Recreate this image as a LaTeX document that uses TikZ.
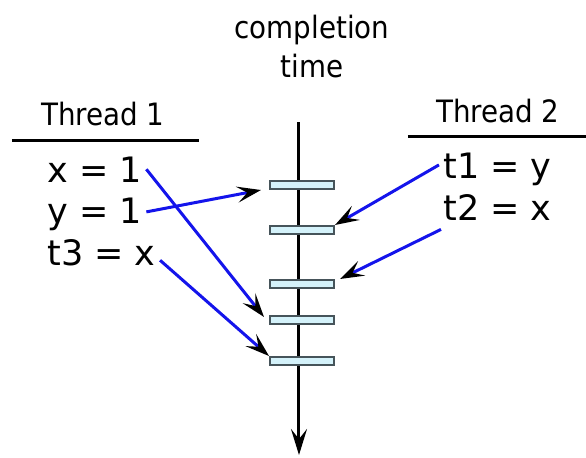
\documentclass[tikz,border=0pt]{standalone}
\usepackage{fontspec}
\setmainfont{DejaVu Sans}
\newfontfamily\condfont{DejaVu Sans Condensed}
\usepackage{tikz}
\usetikzlibrary{arrows.meta,positioning,calc}
\definecolor{slotfill}{RGB}{212,242,250}
\definecolor{slotedge}{RGB}{70,84,90}
\definecolor{linkblue}{RGB}{20,20,235}
\tikzset{
    slot/.style={rectangle, draw=slotedge, fill=slotfill, line width=1pt, minimum width=32pt, minimum height=4pt, inner sep=0pt},
    stmt/.style={anchor=base west, inner sep=2pt, font=\fontsize{17.5}{19}\selectfont},
    head/.style={anchor=base, font=\condfont\fontsize{15.4}{18}\selectfont},
    link/.style={draw=linkblue, line width=1.5pt, -{Stealth[black, length=12pt, width=8pt, inset=5pt]}},
    timeline/.style={draw, line width=1.5pt, -{Stealth[length=13pt, width=8pt, inset=5pt]}}
}
\begin{document}
\begin{tikzpicture}[x=0.5pt, y=-0.5pt]
    \useasboundingbox (0,0) rectangle (586,457);

    % Time axis
    \node [head] (ct1) at (312,38) {completion};
    \node [head] (ct2) at (312,77) {time};
    \coordinate (top) at (299,122);
    \coordinate (bottom) at (299,455);
    \path [timeline] (top) -- (bottom);

    % Completion slots
    \node [slot] (s1) at (302,185) {};
    \node [slot] (s2) at (302,230) {};
    \node [slot] (s3) at (302,284) {};
    \node [slot] (s4) at (302,320) {};
    \node [slot] (s5) at (302,361) {};

    % Thread 1
    \node [head] (th1) at (103,125) {Thread 1};
    \coordinate (r1a) at (12,140);
    \coordinate (r1b) at (199,140);
    \draw [line width=1.5pt] (r1a) -- (r1b);
    \node [stmt] (xone) at (43,182) {x = 1};
    \node [stmt] (yone) at (43,223) {y = 1};
    \node [stmt] (tthree) at (43,265) {t3 = x};

    % Thread 2
    \node [head] (th2) at (498,122) {Thread 2};
    \coordinate (r2a) at (408,136);
    \coordinate (r2b) at (586,136);
    \draw [line width=1.5pt] (r2a) -- (r2b);
    \node [stmt] (tone) at (439,178) {t1 = y};
    \node [stmt] (ttwo) at (439,220) {t2 = x};

    % Connections
    \path [link] (xone.east) -- ([xshift=-2.5pt,yshift=1.5pt]s4.west);
    \path [link] ([yshift=1pt]yone.east) -- ([xshift=-4pt,yshift=-2.5pt]s1.west);
    \path [link] ([yshift=-4pt]tthree.east) -- (s5.north west);
    \path [link] ([yshift=2pt]tone.west) -- (s2.north east);
    \path [link] ([xshift=1pt,yshift=-2.5pt]ttwo.south west) -- ([xshift=2.5pt]s3.north east);
\end{tikzpicture}
\end{document}
